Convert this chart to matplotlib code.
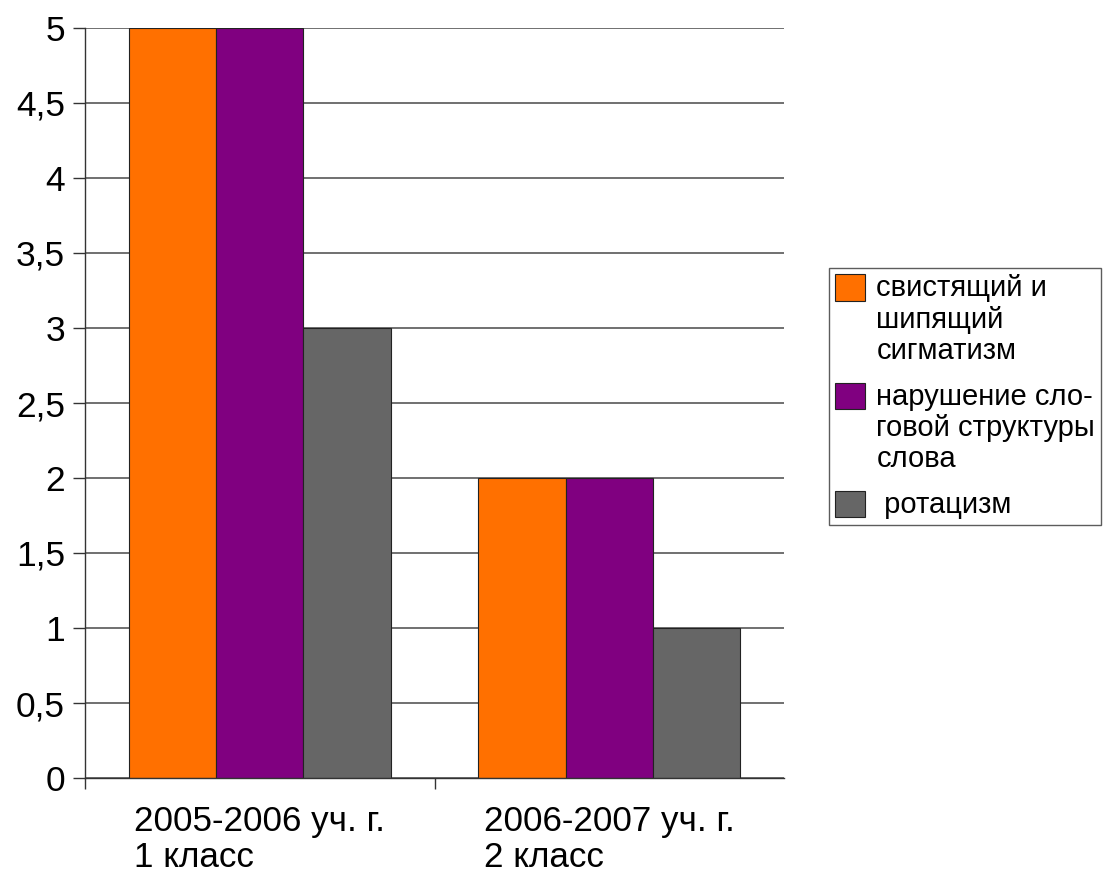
import matplotlib
matplotlib.use("Agg")
import matplotlib.pyplot as plt
import numpy as np
from matplotlib.ticker import MultipleLocator, FixedLocator, FuncFormatter

plt.rcParams['font.family'] = ['Liberation Sans', 'DejaVu Sans']

categories = ["2005-2006 уч. г.\n1 класс", "2006-2007 уч. г.\n2 класс"]
series_names = ["свистящий и\nшипящий\nсигматизм",
                "нарушение сло-\nговой структуры\nслова",
                " ротацизм"]
series_values = [
    [5, 2],
    [5, 2],
    [3, 1],
]
colors = ["#ff7000", "#800080", "#666666"]

W, H = 1108, 872
fig = plt.figure(figsize=(W / 100, H / 100), dpi=100)
ax = fig.add_axes([85 / W, 1 - 778 / H, 699 / W, 750 / H])

x = np.arange(len(categories))
bw = 0.25
handles = []
for i, (name, vals, c) in enumerate(zip(series_names, series_values, colors)):
    b = ax.bar(x + (i - 1) * bw, vals, width=bw, color=c, edgecolor="#222222",
               linewidth=0.8, label=name, zorder=3)
    handles.append(b)

ax.set_xlim(-0.5, len(categories) - 0.5)
ax.set_ylim(0, 5)
ax.yaxis.set_major_locator(MultipleLocator(0.5))
ax.yaxis.set_major_formatter(FuncFormatter(lambda v, p: (f"{v:g}").replace(".", ",")))
ax.grid(axis="y", color="#707070", linewidth=1.4, zorder=0)

for s in ["top", "right"]:
    ax.spines[s].set_visible(False)
for s in ["left", "bottom"]:
    ax.spines[s].set_color("#333333")
    ax.spines[s].set_linewidth(1.0)
    ax.spines[s].set_zorder(4)

ax.set_xticks(x)
ax.set_xticklabels(categories, multialignment="left", linespacing=1.12)
ax.tick_params(axis="x", which="major", length=0, pad=19.5, labelsize=25.2)
ax.xaxis.set_minor_locator(FixedLocator([-0.5, 0.5]))
ax.tick_params(axis="x", which="minor", length=8, width=1.0, color="#333333", direction="out")
ax.tick_params(axis="y", which="major", length=8.6, width=1.0, color="#333333", pad=5.8, labelsize=25.5)

leg = fig.legend(handles=handles, labels=series_names, loc="upper left",
                 bbox_to_anchor=(829 / W, 1 - 268 / H), borderaxespad=0,
                 fontsize=21, frameon=True, fancybox=False, edgecolor="#333333",
                 handlelength=1.0, handleheight=1.0, handletextpad=0.4,
                 labelspacing=0.6, borderpad=0.22)
leg.get_frame().set_linewidth(1.0)
for t in leg.get_texts():
    t.set_linespacing(1.15)
# align handles with the first line of each label
try:
    for col in leg._legend_handle_box.get_children():
        for hp in col.get_children():
            hp.align = "top"
except Exception:
    pass

fig.savefig("out.png", dpi=100, facecolor="white")
